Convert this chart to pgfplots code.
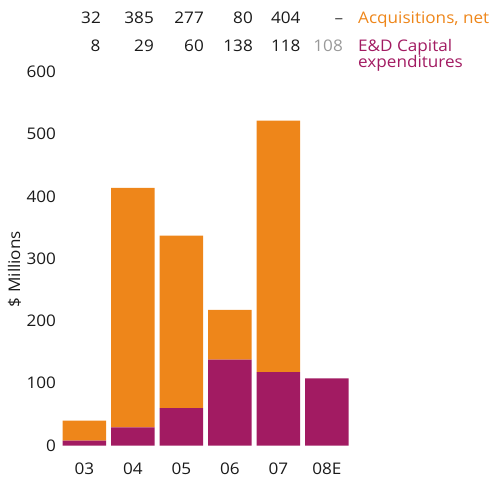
\documentclass[border=0pt]{standalone}
\usepackage{fontspec}
\setmainfont{Open Sans}[FakeStretch=1.07]
\usepackage{pgfplots}
\pgfplotsset{compat=1.18}
\definecolor{acq}{RGB}{238,134,26}
\definecolor{ed}{RGB}{162,27,98}
\definecolor{txt}{RGB}{26,26,26}
\begin{document}
\begin{tikzpicture}[x=1pt,y=1pt,font=\fontsize{16}{19}\selectfont]
\useasboundingbox (0,0) rectangle (493,480);
\begin{axis}[
  at={(60.1pt,34.5pt)}, anchor=south west,
  scale only axis, width=291pt, height=373.5pt,
  xmin=-0.5, xmax=5.5, ymin=0, ymax=600,
  ybar stacked, bar width=43.5pt,
  axis line style={draw=none}, major tick length=0pt,
  xtick={0,...,5}, xticklabels={03,04,05,06,07,08E},
  ytick={0,100,...,600},
  /pgf/number format/assume math mode=true,
  tick label style={font=\fontsize{16}{19}\selectfont, text=txt},
  xticklabel style={anchor=center, inner sep=0pt, yshift=-23.5pt},
  yticklabel style={anchor=east, inner sep=0pt, xshift=-4pt},
  clip=false,
]
\addplot[fill=ed, draw=none] coordinates {(0,8) (1,29) (2,60) (3,138) (4,118) (5,108)};
\addplot[fill=acq, draw=none] coordinates {(0,32) (1,385) (2,277) (3,80) (4,404) (5,0)};
\end{axis}
\node[rotate=90, anchor=center, text=txt] at (14.5,211) {\$ Millions};
% row 1
\foreach \x/\v in {101/32,154/385,204/277,253/80,300.7/404}
  \node[anchor=base east, inner sep=0pt, text=txt] at (\x,456) {\v};
\node[anchor=base, inner sep=0pt, text=txt!80] at (339,456) {–};
\node[anchor=base west, inner sep=0pt, text=acq] at (358,456) {Acquisitions, net};
% row 2
\foreach \x/\v in {100.7/8,154/29,204/60,253/138,300.7/118}
  \node[anchor=base east, inner sep=0pt, text=txt] at (\x,428.7) {\v};
\node[anchor=base east, inner sep=0pt, text=black!40] at (343,428.7) {108};
\node[anchor=base west, inner sep=0pt, text=ed] at (358,428.7) {E\&D Capital};
\node[anchor=base west, inner sep=0pt, text=ed] at (358,412) {expenditures};
\end{tikzpicture}
\end{document}
